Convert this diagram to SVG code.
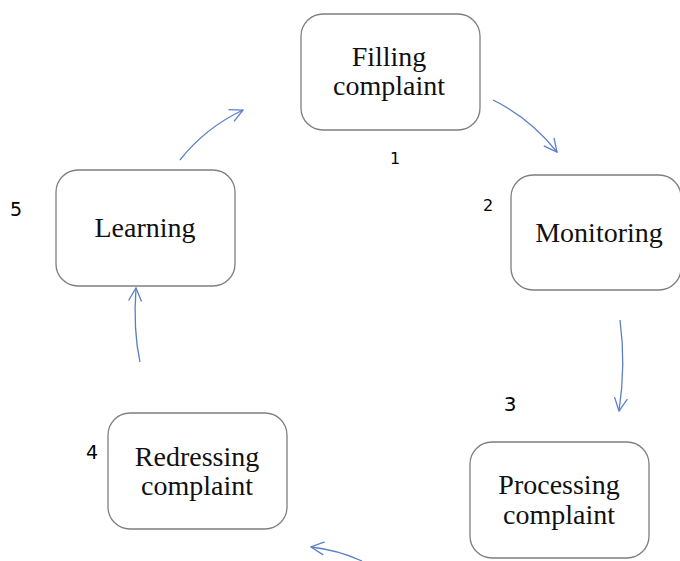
<svg xmlns="http://www.w3.org/2000/svg" width="680" height="561" viewBox="0 0 680 561">
<defs>
<style>
.box{fill:#fff;stroke:#7f7f7f;stroke-width:1.3}
.lbl{font-family:"Liberation Serif","Times New Roman",serif;font-size:28px;fill:#111;text-anchor:middle}
.num{font-family:"DejaVu Sans","Noto Sans",sans-serif;fill:#000}
.con{fill:none;stroke:#5b7fc7;stroke-width:1.3}
</style>
<marker id="ah" viewBox="0 0 16 16" refX="15" refY="8" markerWidth="16" markerHeight="16" markerUnits="userSpaceOnUse" orient="auto">
<path d="M2,1.5 L15,8 L2,14.5" fill="none" stroke="#5b7fc7" stroke-width="1.3"/>
</marker>
</defs>
<rect width="680" height="561" fill="#fff"/>
<g id="connectors">
<path class="con" d="M493,100 Q530,118 557,152" marker-end="url(#ah)"/>
<path class="con" d="M620,320 Q626,365 619,411" marker-end="url(#ah)"/>
<path class="con" d="M362,561 Q338,550 311,547" marker-end="url(#ah)"/>
<path class="con" d="M140,362 Q133,330 136,288" marker-end="url(#ah)"/>
<path class="con" d="M180,160 Q205,128 243,110" marker-end="url(#ah)"/>
</g>
<g id="n1">
<rect class="box" x="301" y="14" width="179" height="116" rx="22"/>
<text class="lbl" x="389" y="66">Filling</text>
<text class="lbl" x="389" y="95">complaint</text>
<text class="num" x="395" y="164" font-size="16" text-anchor="middle">1</text>
</g>
<g id="n2">
<rect class="box" x="511" y="175" width="170" height="115" rx="22"/>
<text class="lbl" x="599" y="242">Monitoring</text>
<text class="num" x="488" y="211" font-size="16" text-anchor="middle">2</text>
</g>
<g id="n3">
<rect class="box" x="470" y="442" width="179" height="116" rx="22"/>
<text class="lbl" x="559" y="494">Processing</text>
<text class="lbl" x="559" y="524">complaint</text>
<text class="num" x="510" y="411" font-size="20" text-anchor="middle">3</text>
</g>
<g id="n4">
<rect class="box" x="108" y="413" width="179" height="116" rx="22"/>
<text class="lbl" x="197" y="466">Redressing</text>
<text class="lbl" x="197" y="495">complaint</text>
<text class="num" x="92" y="459" font-size="19" text-anchor="middle">4</text>
</g>
<g id="n5">
<rect class="box" x="56" y="170" width="179" height="116" rx="22"/>
<text class="lbl" x="145" y="237">Learning</text>
<text class="num" x="16" y="216" font-size="19" text-anchor="middle">5</text>
</g>
</svg>
